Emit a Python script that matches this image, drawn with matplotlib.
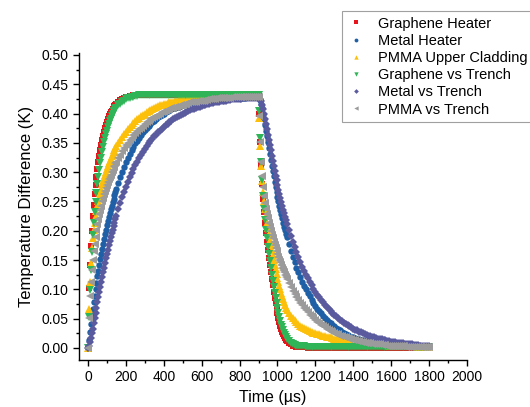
import matplotlib
matplotlib.use("Agg")
import matplotlib.pyplot as plt
from matplotlib.ticker import MultipleLocator

plt.rcParams['font.family'] = ['Liberation Sans', 'DejaVu Sans']

# sample times (us): 5 us steps on the fast edges, 10 us elsewhere
time_us = [
    0, 5, 10, 15, 20, 25, 30, 35, 40, 45, 50, 55, 60, 65, 70, 75,
    80, 85, 90, 95, 100, 105, 110, 115, 120, 125, 130, 135, 140, 145, 150,
    160, 170, 180, 190, 200, 210, 220, 230, 240, 250, 260, 270, 280, 290, 300,
    310, 320, 330, 340, 350, 360, 370, 380, 390, 400,
    410, 420, 430, 440, 450, 460, 470, 480, 490, 500,
    510, 520, 530, 540, 550, 560, 570, 580, 590, 600,
    610, 620, 630, 640, 650, 660, 670, 680, 690, 700,
    710, 720, 730, 740, 750, 760, 770, 780, 790, 800,
    810, 820, 830, 840, 850, 860, 870, 880, 890, 900,
    905, 910, 915, 920, 925, 930, 935, 940, 945, 950, 955, 960, 965, 970, 975,
    980, 985, 990, 995, 1000, 1005, 1010, 1015, 1020, 1025, 1030, 1035, 1040, 1045, 1050,
    1060, 1070, 1080, 1090, 1100, 1110, 1120, 1130, 1140, 1150, 1160, 1170, 1180, 1190, 1200,
    1210, 1220, 1230, 1240, 1250, 1260, 1270, 1280, 1290, 1300,
    1310, 1320, 1330, 1340, 1350, 1360, 1370, 1380, 1390, 1400,
    1410, 1420, 1430, 1440, 1450, 1460, 1470, 1480, 1490, 1500,
    1510, 1520, 1530, 1540, 1550, 1560, 1570, 1580, 1590, 1600,
    1610, 1620, 1630, 1640, 1650, 1660, 1670, 1680, 1690, 1700,
    1710, 1720, 1730, 1740, 1750, 1760, 1770, 1780, 1790, 1800,
]

# temperature difference (K)
graphene_heater = [
    0.000, 0.102, 0.142, 0.174, 0.200, 0.225, 0.244, 0.262, 0.278, 0.292, 0.305, 0.317, 0.328, 0.338, 0.347, 0.355,
    0.362, 0.369, 0.375, 0.381, 0.386, 0.391, 0.395, 0.399, 0.402, 0.405, 0.408, 0.411, 0.413, 0.415, 0.417,
    0.420, 0.423, 0.425, 0.427, 0.428, 0.429, 0.430, 0.430, 0.431, 0.431, 0.431, 0.432, 0.432, 0.432, 0.432,
    0.432, 0.432, 0.432, 0.432, 0.432, 0.432, 0.432, 0.432, 0.432, 0.432,
    0.432, 0.432, 0.432, 0.432, 0.432, 0.432, 0.432, 0.432, 0.432, 0.432,
    0.432, 0.432, 0.432, 0.432, 0.432, 0.432, 0.432, 0.432, 0.432, 0.432,
    0.432, 0.432, 0.432, 0.432, 0.432, 0.432, 0.432, 0.432, 0.432, 0.432,
    0.432, 0.432, 0.432, 0.432, 0.432, 0.432, 0.432, 0.432, 0.432, 0.432,
    0.432, 0.432, 0.432, 0.432, 0.432, 0.432, 0.432, 0.432, 0.432, 0.432,
    0.400, 0.352, 0.312, 0.280, 0.254, 0.232, 0.213, 0.196, 0.181, 0.167, 0.154, 0.142, 0.130, 0.118, 0.107,
    0.096, 0.086, 0.076, 0.067, 0.059, 0.051, 0.044, 0.038, 0.033, 0.028, 0.024, 0.020, 0.017, 0.014, 0.012,
    0.008, 0.006, 0.004, 0.003, 0.002, 0.002, 0.001, 0.001, 0.001, 0.001, 0.000, 0.000, 0.000, 0.000, 0.000,
    0.000, 0.000, 0.000, 0.000, 0.000, 0.000, 0.000, 0.000, 0.000, 0.000,
    0.000, 0.000, 0.000, 0.000, 0.000, 0.000, 0.000, 0.000, 0.000, 0.000,
    0.000, 0.000, 0.000, 0.000, 0.000, 0.000, 0.000, 0.000, 0.000, 0.000,
    0.000, 0.000, 0.000, 0.000, 0.000, 0.000, 0.000, 0.000, 0.000, 0.000,
    0.000, 0.000, 0.000, 0.000, 0.000, 0.000, 0.000, 0.000, 0.000, 0.000,
    0.000, 0.000, 0.000, 0.000, 0.000, 0.000, 0.000, 0.000, 0.000, 0.000,
]
metal_heater = [
    0.000, 0.014, 0.028, 0.041, 0.054, 0.066, 0.078, 0.089, 0.100, 0.111, 0.122, 0.132, 0.142, 0.151, 0.160, 0.169,
    0.178, 0.186, 0.194, 0.202, 0.209, 0.216, 0.223, 0.230, 0.237, 0.243, 0.249, 0.255, 0.261, 0.266, 0.272,
    0.282, 0.291, 0.300, 0.309, 0.317, 0.324, 0.331, 0.337, 0.343, 0.349, 0.354, 0.359, 0.364, 0.368, 0.372,
    0.376, 0.379, 0.382, 0.385, 0.388, 0.391, 0.394, 0.396, 0.398, 0.400,
    0.402, 0.404, 0.406, 0.407, 0.409, 0.410, 0.411, 0.412, 0.414, 0.415,
    0.416, 0.417, 0.418, 0.418, 0.419, 0.420, 0.420, 0.421, 0.421, 0.422,
    0.422, 0.423, 0.423, 0.424, 0.424, 0.424, 0.425, 0.425, 0.425, 0.426,
    0.426, 0.426, 0.426, 0.426, 0.426, 0.427, 0.427, 0.427, 0.427, 0.427,
    0.427, 0.427, 0.427, 0.428, 0.428, 0.428, 0.428, 0.428, 0.428, 0.428,
    0.427, 0.423, 0.417, 0.409, 0.400, 0.391, 0.381, 0.371, 0.361, 0.351, 0.341, 0.331, 0.321, 0.311, 0.302,
    0.293, 0.284, 0.275, 0.266, 0.258, 0.250, 0.242, 0.235, 0.228, 0.221, 0.214, 0.207, 0.201, 0.195, 0.189,
    0.177, 0.166, 0.156, 0.146, 0.137, 0.129, 0.121, 0.113, 0.106, 0.100, 0.093, 0.088, 0.082, 0.077, 0.072,
    0.067, 0.063, 0.059, 0.055, 0.051, 0.048, 0.045, 0.042, 0.039, 0.037,
    0.034, 0.032, 0.030, 0.028, 0.026, 0.024, 0.022, 0.021, 0.019, 0.018,
    0.017, 0.016, 0.015, 0.014, 0.013, 0.012, 0.011, 0.011, 0.010, 0.009,
    0.009, 0.008, 0.008, 0.007, 0.007, 0.006, 0.006, 0.005, 0.005, 0.005,
    0.004, 0.004, 0.004, 0.004, 0.004, 0.003, 0.003, 0.003, 0.003, 0.003,
    0.003, 0.002, 0.002, 0.002, 0.002, 0.002, 0.002, 0.002, 0.002, 0.002,
]
pmma_cladding = [
    0.000, 0.066, 0.113, 0.145, 0.170, 0.188, 0.202, 0.214, 0.225, 0.234, 0.243, 0.251, 0.258, 0.265, 0.272, 0.279,
    0.285, 0.290, 0.295, 0.300, 0.305, 0.310, 0.315, 0.319, 0.323, 0.327, 0.331, 0.335, 0.338, 0.341, 0.344,
    0.350, 0.355, 0.360, 0.365, 0.369, 0.373, 0.377, 0.381, 0.384, 0.387, 0.390, 0.393, 0.396, 0.398, 0.400,
    0.402, 0.404, 0.406, 0.408, 0.410, 0.411, 0.413, 0.414, 0.415, 0.416,
    0.417, 0.418, 0.419, 0.420, 0.420, 0.421, 0.422, 0.423, 0.423, 0.424,
    0.424, 0.425, 0.425, 0.426, 0.426, 0.427, 0.427, 0.427, 0.428, 0.428,
    0.428, 0.428, 0.429, 0.429, 0.429, 0.429, 0.429, 0.429, 0.430, 0.430,
    0.430, 0.430, 0.430, 0.430, 0.430, 0.430, 0.430, 0.431, 0.431, 0.431,
    0.431, 0.431, 0.431, 0.431, 0.431, 0.431, 0.431, 0.431, 0.431, 0.431,
    0.392, 0.345, 0.310, 0.285, 0.266, 0.250, 0.237, 0.225, 0.214, 0.204, 0.194, 0.185, 0.176, 0.167, 0.158,
    0.150, 0.142, 0.134, 0.126, 0.119, 0.112, 0.106, 0.100, 0.094, 0.088, 0.083, 0.078, 0.073, 0.069, 0.065,
    0.060, 0.055, 0.051, 0.047, 0.044, 0.041, 0.038, 0.036, 0.034, 0.032, 0.030, 0.029, 0.027, 0.026, 0.025,
    0.024, 0.023, 0.022, 0.021, 0.020, 0.019, 0.018, 0.018, 0.017, 0.016,
    0.016, 0.015, 0.015, 0.014, 0.014, 0.013, 0.013, 0.012, 0.012, 0.011,
    0.011, 0.010, 0.010, 0.009, 0.009, 0.008, 0.008, 0.008, 0.007, 0.007,
    0.007, 0.006, 0.006, 0.006, 0.005, 0.005, 0.005, 0.005, 0.004, 0.004,
    0.004, 0.004, 0.004, 0.004, 0.004, 0.003, 0.003, 0.003, 0.003, 0.003,
    0.003, 0.003, 0.003, 0.002, 0.002, 0.002, 0.002, 0.002, 0.002, 0.002,
]
graphene_trench = [
    0.000, 0.053, 0.099, 0.133, 0.164, 0.192, 0.213, 0.232, 0.249, 0.265, 0.279, 0.292, 0.304, 0.315, 0.325, 0.334,
    0.343, 0.351, 0.358, 0.365, 0.371, 0.377, 0.382, 0.387, 0.391, 0.395, 0.399, 0.402, 0.405, 0.408, 0.410,
    0.414, 0.417, 0.420, 0.422, 0.424, 0.426, 0.427, 0.428, 0.429, 0.430, 0.430, 0.431, 0.431, 0.431, 0.432,
    0.432, 0.432, 0.432, 0.432, 0.432, 0.432, 0.432, 0.432, 0.432, 0.432,
    0.432, 0.432, 0.432, 0.432, 0.432, 0.432, 0.432, 0.432, 0.432, 0.432,
    0.432, 0.432, 0.432, 0.432, 0.432, 0.432, 0.432, 0.432, 0.432, 0.432,
    0.432, 0.432, 0.432, 0.432, 0.432, 0.432, 0.432, 0.432, 0.432, 0.432,
    0.432, 0.432, 0.432, 0.432, 0.432, 0.432, 0.432, 0.432, 0.432, 0.432,
    0.432, 0.432, 0.432, 0.432, 0.432, 0.432, 0.432, 0.432, 0.432, 0.432,
    0.405, 0.358, 0.318, 0.286, 0.260, 0.238, 0.219, 0.202, 0.187, 0.173, 0.160, 0.148, 0.136, 0.125, 0.114,
    0.104, 0.094, 0.085, 0.076, 0.068, 0.060, 0.053, 0.046, 0.040, 0.035, 0.030, 0.026, 0.022, 0.019, 0.016,
    0.012, 0.009, 0.007, 0.005, 0.004, 0.004, 0.003, 0.003, 0.003, 0.002, 0.002, 0.002, 0.002, 0.002, 0.002,
    0.002, 0.002, 0.002, 0.002, 0.002, 0.002, 0.002, 0.002, 0.002, 0.002,
    0.002, 0.002, 0.002, 0.002, 0.002, 0.002, 0.002, 0.002, 0.002, 0.002,
    0.002, 0.002, 0.002, 0.002, 0.002, 0.002, 0.002, 0.002, 0.002, 0.002,
    0.002, 0.002, 0.002, 0.002, 0.002, 0.002, 0.002, 0.002, 0.002, 0.002,
    0.002, 0.002, 0.002, 0.002, 0.002, 0.002, 0.002, 0.002, 0.002, 0.002,
    0.002, 0.002, 0.002, 0.002, 0.002, 0.002, 0.002, 0.002, 0.002, 0.002,
]
metal_trench = [
    0.000, 0.004, 0.010, 0.017, 0.025, 0.033, 0.042, 0.051, 0.060, 0.069, 0.078, 0.087, 0.096, 0.104, 0.113, 0.121,
    0.129, 0.137, 0.145, 0.153, 0.160, 0.168, 0.175, 0.182, 0.189, 0.196, 0.202, 0.208, 0.214, 0.220, 0.226,
    0.237, 0.247, 0.257, 0.266, 0.275, 0.283, 0.291, 0.298, 0.305, 0.312, 0.318, 0.324, 0.330, 0.335, 0.340,
    0.345, 0.349, 0.353, 0.357, 0.361, 0.364, 0.368, 0.371, 0.374, 0.377,
    0.380, 0.382, 0.385, 0.387, 0.390, 0.392, 0.394, 0.396, 0.398, 0.399,
    0.401, 0.403, 0.405, 0.406, 0.407, 0.408, 0.410, 0.411, 0.412, 0.413,
    0.414, 0.415, 0.416, 0.417, 0.418, 0.418, 0.419, 0.420, 0.420, 0.421,
    0.421, 0.422, 0.422, 0.423, 0.423, 0.424, 0.424, 0.425, 0.425, 0.425,
    0.425, 0.426, 0.426, 0.426, 0.426, 0.427, 0.427, 0.427, 0.427, 0.427,
    0.427, 0.425, 0.421, 0.415, 0.408, 0.400, 0.391, 0.382, 0.373, 0.364, 0.355, 0.346, 0.337, 0.328, 0.319,
    0.310, 0.302, 0.294, 0.286, 0.278, 0.270, 0.263, 0.256, 0.249, 0.242, 0.236, 0.230, 0.224, 0.218, 0.212,
    0.201, 0.191, 0.181, 0.172, 0.163, 0.155, 0.147, 0.139, 0.132, 0.125, 0.119, 0.113, 0.107, 0.101, 0.096,
    0.091, 0.087, 0.082, 0.078, 0.074, 0.070, 0.066, 0.063, 0.060, 0.057,
    0.054, 0.051, 0.048, 0.046, 0.043, 0.041, 0.039, 0.037, 0.035, 0.033,
    0.031, 0.030, 0.028, 0.027, 0.025, 0.024, 0.022, 0.021, 0.020, 0.019,
    0.018, 0.017, 0.016, 0.015, 0.015, 0.014, 0.013, 0.012, 0.012, 0.011,
    0.010, 0.010, 0.009, 0.009, 0.008, 0.008, 0.007, 0.007, 0.006, 0.006,
    0.006, 0.005, 0.005, 0.005, 0.004, 0.004, 0.004, 0.004, 0.003, 0.003,
]
pmma_trench = [
    0.000, 0.052, 0.088, 0.113, 0.133, 0.150, 0.165, 0.178, 0.190, 0.201, 0.211, 0.220, 0.228, 0.236, 0.243, 0.250,
    0.256, 0.262, 0.268, 0.273, 0.278, 0.283, 0.288, 0.292, 0.296, 0.300, 0.304, 0.308, 0.311, 0.315, 0.318,
    0.324, 0.330, 0.336, 0.341, 0.346, 0.350, 0.355, 0.359, 0.363, 0.366, 0.370, 0.373, 0.376, 0.379, 0.382,
    0.385, 0.387, 0.390, 0.392, 0.394, 0.396, 0.398, 0.400, 0.402, 0.403,
    0.405, 0.406, 0.408, 0.409, 0.410, 0.411, 0.412, 0.413, 0.414, 0.415,
    0.416, 0.417, 0.418, 0.419, 0.419, 0.420, 0.420, 0.421, 0.421, 0.422,
    0.422, 0.423, 0.423, 0.424, 0.424, 0.425, 0.425, 0.426, 0.426, 0.426,
    0.426, 0.427, 0.427, 0.427, 0.427, 0.428, 0.428, 0.428, 0.428, 0.428,
    0.428, 0.429, 0.429, 0.429, 0.429, 0.429, 0.429, 0.429, 0.429, 0.429,
    0.395, 0.352, 0.318, 0.293, 0.274, 0.260, 0.248, 0.238, 0.229, 0.221, 0.213, 0.206, 0.199, 0.193, 0.187,
    0.181, 0.175, 0.170, 0.165, 0.160, 0.155, 0.150, 0.146, 0.141, 0.137, 0.133, 0.129, 0.125, 0.121, 0.118,
    0.111, 0.104, 0.098, 0.092, 0.087, 0.082, 0.077, 0.073, 0.068, 0.064, 0.061, 0.057, 0.054, 0.051, 0.048,
    0.045, 0.043, 0.040, 0.038, 0.035, 0.033, 0.031, 0.029, 0.027, 0.026,
    0.024, 0.023, 0.021, 0.020, 0.019, 0.018, 0.017, 0.016, 0.015, 0.014,
    0.013, 0.012, 0.012, 0.011, 0.010, 0.009, 0.009, 0.008, 0.008, 0.007,
    0.007, 0.006, 0.006, 0.006, 0.005, 0.005, 0.005, 0.004, 0.004, 0.004,
    0.004, 0.003, 0.003, 0.003, 0.003, 0.003, 0.003, 0.002, 0.002, 0.002,
    0.002, 0.002, 0.002, 0.002, 0.002, 0.002, 0.002, 0.002, 0.002, 0.002,
]

series = [
    ("Graphene Heater", graphene_heater, "#e8141c", "s", 4.0),
    ("Metal Heater", metal_heater, "#1f5fa6", "o", 4.6),
    ("PMMA Upper Cladding", pmma_cladding, "#fcbf0a", "^", 5.2),
    ("Graphene vs Trench", graphene_trench, "#2fb558", "v", 5.2),
    ("Metal vs Trench", metal_trench, "#5a5a9e", "D", 4.0),
    ("PMMA vs Trench", pmma_trench, "#9b9b9b", "<", 5.2),
]

fig = plt.figure(figsize=(5.30, 4.07), dpi=100)
ax = fig.add_axes([0.149, 0.1155, 0.732, 0.7545])

for name, vals, col, mk, ms in series:
    ax.plot(time_us, vals, ls="none", marker=mk, ms=ms, mew=0, color=col, label=name)

ax.set_xlim(-47.5, 2000)
ax.set_ylim(-0.0205, 0.5035)
ax.xaxis.set_major_locator(MultipleLocator(200))
ax.xaxis.set_minor_locator(MultipleLocator(100))
ax.yaxis.set_major_locator(MultipleLocator(0.05))
ax.yaxis.set_minor_locator(MultipleLocator(0.025))
ax.yaxis.set_major_formatter(plt.FormatStrFormatter("%.2f"))
ax.tick_params(which="major", direction="out", length=4, width=1, labelsize=10)
ax.tick_params(which="minor", direction="out", length=2.2, width=1)
for s in ("top", "right"):
    ax.spines[s].set_visible(False)
for s in ("left", "bottom"):
    ax.spines[s].set_linewidth(1)

ax.set_xlabel("Time (µs)", fontsize=11.5, labelpad=4)
ax.set_ylabel("Temperature Difference (K)", fontsize=12, labelpad=5)

leg = fig.legend(loc="upper left", bbox_to_anchor=(0.645, 0.972), borderaxespad=0,
                 fontsize=10.5, frameon=True, fancybox=False, edgecolor="#888888",
                 markerscale=0.6, handlelength=1.2, handletextpad=0.9,
                 labelspacing=0.22, borderpad=0.35)
leg.get_frame().set_linewidth(0.8)

fig.savefig("out.png", dpi=100)
